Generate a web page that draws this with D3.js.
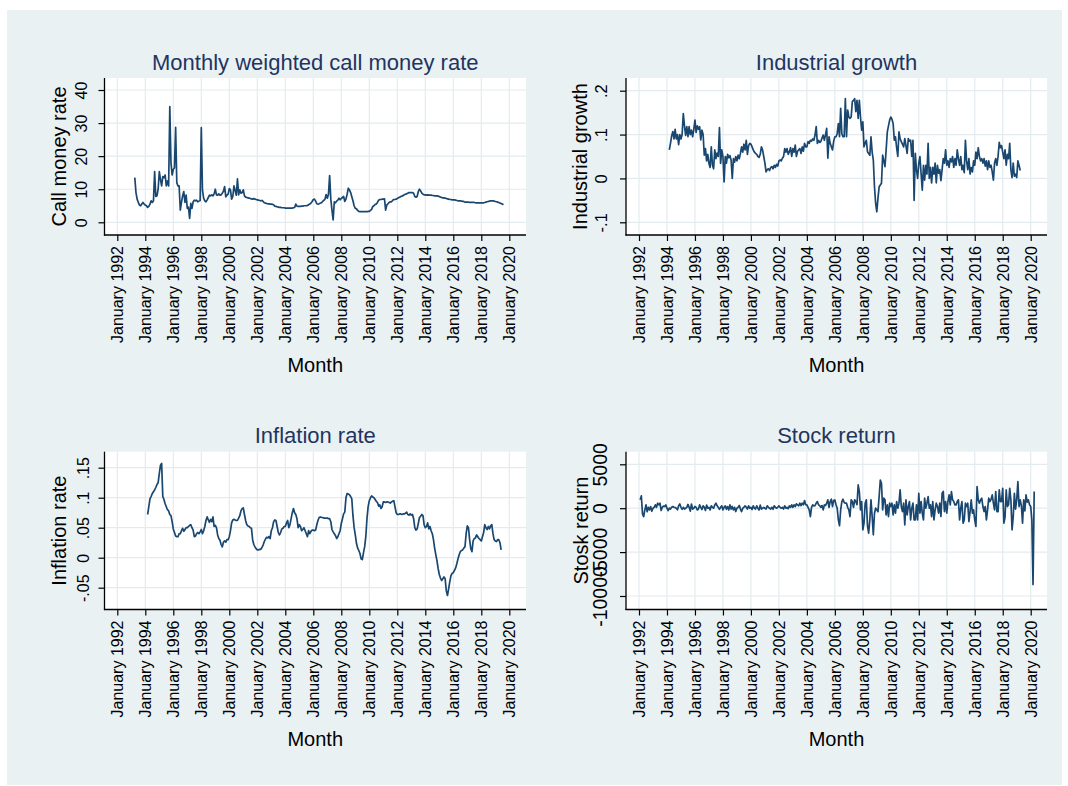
<!DOCTYPE html>
<html>
<head>
<meta charset="utf-8">
<script src="https://cdn.jsdelivr.net/npm/d3@7"></script>
<style>
  body { margin: 0; background: #fff; }
  text { font-family: "Liberation Sans", Arial, sans-serif; }
</style>
</head>
<body>
<div id="chart"></div>
<script>
// x axis: month index, 0 = January 1992
var tickYears = [1992, 1994, 1996, 1998, 2000, 2002, 2004, 2006, 2008, 2010, 2012, 2014, 2016, 2018, 2020]

// Monthly weighted call money rate, from April 1993
var callStart = [1993, 4]
var callRate = [
  13.5, 9.0, 7.0, 6.0, 5.2, 5.0, 5.5, 6.0, 5.5,
  5.2, 5.0, 4.5, 4.8, 5.5, 6.5, 6.0, 6.5, 15.3, 7.8, 8.0, 10.0,
  15.3, 13.0, 11.0, 13.8, 13.5, 14.3, 11.0, 12.5, 11.0, 35.0, 18.0, 14.3,
  16.0, 16.5, 28.7, 12.0, 11.0, 11.0, 3.7, 6.0, 8.0, 9.3, 6.0, 8.2,
  4.2, 4.6, 1.2, 5.7, 4.2, 6.2, 6.7, 6.5, 6.7, 6.2, 6.4, 6.6,
  28.6, 9.7, 7.3, 6.5, 6.2, 6.8, 7.5, 8.2, 8.0, 8.3, 8.0, 8.6,
  10.0, 8.3, 8.2, 8.6, 8.2, 8.3, 8.8, 9.4, 10.8, 7.7, 8.2, 8.5,
  10.2, 9.8, 7.0, 7.8, 11.0, 9.6, 8.2, 13.1, 8.3, 9.8, 8.8, 9.0,
  9.8, 8.0, 7.6, 7.5, 7.4, 7.3, 7.2, 7.1, 7.0, 7.2, 7.0, 6.9,
  6.8, 6.7, 6.6, 6.5, 6.6, 6.3, 5.9, 5.8, 5.7, 5.6, 5.6, 5.5,
  5.5, 5.4, 5.3, 4.9, 4.8, 4.7, 4.6, 4.5, 4.5, 4.4, 4.4, 4.4,
  4.3, 4.3, 4.3, 4.3, 4.3, 4.3, 4.3, 4.4, 4.5, 5.5, 4.9, 4.8,
  4.8, 4.8, 4.9, 4.9, 5.0, 5.0, 5.0, 5.1, 5.3, 5.5, 5.8, 6.3,
  6.9, 7.0, 6.4, 5.6, 5.5, 5.6, 5.8, 5.9, 6.3, 6.6, 7.0, 8.4,
  7.3, 8.5, 14.1, 7.0, 3.7, 0.7, 6.2, 5.9, 6.4, 6.7, 7.3, 6.8,
  7.2, 7.5, 7.8, 6.3, 7.0, 8.5, 10.3, 9.8, 9.0, 7.7, 6.5, 5.0,
  4.2, 4.1, 3.6, 3.3, 3.2, 3.2, 3.2, 3.2, 3.2, 3.2, 3.2, 3.3,
  3.3, 3.6, 3.9, 4.8, 5.0, 5.4, 5.5, 6.0, 6.7, 6.9, 6.9, 7.0,
  7.0, 7.1, 3.7, 5.2, 5.6, 6.0, 6.2, 6.2, 6.6, 6.9, 6.9, 7.0,
  7.2, 7.4, 7.6, 7.8, 7.9, 8.1, 8.3, 8.5, 8.6, 8.8, 9.0, 9.0,
  9.0, 9.0, 8.8, 7.8, 7.6, 7.8, 9.3, 10.0, 9.5, 8.8, 8.5, 8.3,
  8.3, 8.2, 8.3, 8.2, 8.2, 8.2, 8.1, 8.1, 8.0, 8.0, 8.0, 7.9,
  7.8, 7.6, 7.5, 7.4, 7.4, 7.3, 7.2, 7.1, 7.0, 6.9, 6.9, 6.8,
  6.8, 6.8, 6.7, 6.6, 6.5, 6.5, 6.5, 6.4, 6.3, 6.3, 6.1, 6.1,
  6.1, 6.1, 6.0, 6.0, 6.0, 6.0, 6.0, 5.9, 5.9, 5.9, 5.9, 5.9,
  5.9, 5.9, 5.9, 6.0, 6.1, 6.2, 6.3, 6.4, 6.5, 6.5, 6.5, 6.4,
  6.3, 6.2, 6.1, 6.0, 5.8, 5.7, 5.5, 5.3
]
var callTicks = [0, 10, 20, 30, 40]

// Industrial growth, from March 1994
var indStart = [1994, 3]
var indGrowth = [
  .065, .08, .097, .107, .09, .112, .09, .1, .077, .1,
  .09, .1, .148, .12, .098, .118, .095, .118, .1, .11, .095, .112,
  .133, .105, .12, .112, .118, .088, .11, .1, .053, .068, .04, .055,
  .034, .025, .072, .03, .022, .065, .045, .058, .05, .116, .034, .065,
  .05, -.008, .05, .035, .055, .047, .052, .042, 0, .045, .037, .05,
  .04, .053, .045, .057, .072, .06, .078, .065, .087, .055, .075, .08,
  .078, .072, .065, .06, .057, .055, .05, .048, .055, .072, .065, .05,
  .035, .015, .02, .022, .018, .025, .027, .022, .03, .025, .032, .028,
  .04, .042, .04, .046, .05, .068, .06, .068, .055, .061, .07, .05,
  .068, .06, .076, .05, .062, .065, .068, .057, .072, .062, .08, .072,
  .072, .084, .08, .087, .085, .09, .087, .099, .118, .08, .087, .082,
  .084, .092, .099, .087, .1, .114, .046, .095, .08, .072, .065, .085,
  .095, .095, .102, .125, .095, .16, .102, .095, .095, .182, .095, .156,
  .14, .137, .14, .175, .178, .182, .152, .178, .137, .178, .14, .11,
  .129, .072, .08, .087, .061, .057, .053, .095, .06, .042, -.019, -.057,
  -.076, -.045, -.019, -.015, -.011, .053, .04, .027, .065, .106, .12, .133,
  .14, .135, .125, .087, .095, .07, .05, .106, .09, .084, .078, .072,
  .091, .075, .057, .091, .085, .087, .05, .087, -.05, .057, .02, 0,
  .035, .05, .01, -.027, .03, -.004, .03, .01, .08, 0, .025, -.01,
  .025, .01, .035, -.01, .03, .012, .02, -.005, .02, .045, .035, .065,
  .03, .04, .025, .045, .038, .05, .025, .045, .03, .065, .045, .03,
  .05, .02, .03, .013, .087, .04, .02, .045, .01, .025, .015, .04,
  .03, .06, .045, .07, .05, .04, .045, .035, .045, .028, .04, .02,
  .04, .025, .03, .015, -.004, .035, .045, .03, .05, .082, .07, .075,
  .06, .045, .065, .03, .055, .045, .08, .02, .002, .035, .005, .01,
  .002, .04, .03, .018
]
var indTicks = [-.1, 0, .1, .2]

// Inflation rate, from March 1994
var inflStart = [1994, 3]
var inflation = [
  .072, .085, .098, .102, .107, .11, .113, .117, .122, .125,
  .14, .154, .157, .102, .097, .09, .085, .08, .078, .072, .07, .06,
  .048, .042, .036, .035, .035, .04, .04, .045, .049, .044, .047, .05,
  .05, .052, .054, .055, .05, .046, .035, .036, .04, .042, .04, .043,
  .047, .04, .045, .052, .062, .068, .063, .059, .064, .06, .068, .052,
  .054, .05, .038, .032, .029, .022, .018, .026, .028, .026, .03, .03,
  .035, .045, .058, .063, .064, .063, .062, .062, .066, .07, .078, .082,
  .083, .072, .062, .055, .053, .052, .05, .049, .03, .022, .018, .015,
  .013, .013, .014, .014, .017, .021, .027, .031, .034, .033, .035, .032,
  .045, .05, .06, .063, .062, .052, .042, .038, .042, .048, .049, .052,
  .052, .058, .062, .05, .055, .065, .075, .082, .075, .072, .065, .05,
  .055, .052, .045, .047, .05, .045, .04, .035, .045, .04, .044, .046,
  .046, .045, .046, .055, .062, .067, .068, .067, .067, .066, .066, .066,
  .066, .065, .065, .06, .047, .043, .04, .037, .032, .035, .04, .045,
  .057, .065, .073, .076, .1, .107, .106, .105, .102, .098, .07, .05,
  .038, .024, .016, .012, .007, -.002, -.003, .008, .018, .035, .065, .085,
  .095, .1, .103, .101, .1, .097, .094, .092, .086, .088, .082, .085,
  .093, .093, .092, .093, .093, .092, .091, .093, .094, .095, .085, .075,
  .072, .072, .073, .073, .072, .073, .073, .074, .076, .072, .071, .073,
  .071, .072, .065, .05, .046, .048, .057, .067, .069, .072, .07, .055,
  .05, .052, .058, .048, .052, .045, .04, .03, .016, .005, -.005, -.018,
  -.028, -.034, -.038, -.035, -.032, -.035, -.055, -.063, -.052, -.04, -.03, -.026,
  -.025, -.021, -.017, -.01, -.002, .005, .01, .012, .013, .016, .018, .04,
  .053, .05, .03, .015, .01, .028, .032, .033, .038, .035, .032, .03,
  .028, .035, .042, .055, .05, .047, .052, .048, .053, .055, .04, .03,
  .028, .027, .03, .03, .025, .013
]
var inflTicks = [-.05, 0, .05, .1, .15]

// Stock return, from February 1992
var stockStart = [1992, 2]
var stockReturn = [
  950, 1400, -640, -950, -200, 380, -400, 100, -200, 180, -350,
  0, 100, 380, 100, 570, 380, 570, -265, 100, 250, 190, 380,
  0, -265, 0, -100, 100, 190, 100, 80, 0, -190, 270, 480,
  100, -120, 100, -100, 0, 100, 430, 100, -330, 480, -100, 0,
  200, 100, -200, -100, 380, 100, -150, 270, 100, -250, 350, 0,
  100, -200, 270, 100, 0, 380, 570, 270, 100, -120, 100, 270,
  -200, 100, 270, -120, 190, -200, 380, -100, 200, -190, 100, -380,
  0, 100, 300, -100, -380, 0, 100, 270, 100, -100, 270, 0,
  100, -150, 270, 0, -100, 270, 0, -200, 350, -100, 0, 100,
  0, -100, 270, 100, 0, -100, 100, -120, 270, 100, 0, 100,
  270, 100, 0, 100, -100, 270, 0, 100, -50, 270, 100, 380,
  100, 380, 190, 490, 380, 270, 570, 300, 570, 380, 870, 400,
  380, 100, -190, -950, 100, 380, 270, 300, 570, 760, 400, 270,
  100, 300, -190, 380, 300, 570, 950, 100, 760, 1020, 190, 870,
  950, 400, 0, -1330, -2000, -190, 760, 1020, 650, 570, 570, 100,
  -190, -950, 950, 760, 100, 950, 760, 400, 2650, 1900, -190, 760,
  -2460, -1700, 570, 950, -2000, -2840, -1330, 950, -950, -3030, -570, 0,
  -190, -400, 1330, 3200, 2840, -190, 1140, 950, -760, 380, -950, 570,
  190, 570, -760, 380, -570, 760, 0, 570, 2080, 190, -380, 570,
  -1900, 950, -760, 190, 760, -1330, 0, 570, -1330, -1330, 380, -1330,
  1700, -570, 760, -570, -1330, 1140, 0, 570, 1330, 0, 380, -950,
  760, -1330, -190, 570, 190, -570, 570, -950, 1700, 1900, -380, 760,
  -570, 760, 1520, 380, 1900, 950, 760, 380, 380, 760, 950, -1330,
  0, 760, -1700, -1330, 570, 190, 570, -1520, -380, 950, -570, -190,
  -1330, -2080, 2460, 950, 570, 950, 1140, 190, -380, 190, -1330, -190,
  1140, 760, 1000, 1520, 570, -190, 1900, -380, -400, 2080, 760, 760,
  2270, -1700, -1000, 2080, 190, 380, 2270, 950, -2460, -1000, 1700, -100,
  950, 3030, 190, 950, 300, -1700, 950, -300, 1520, 700, 950, 380,
  200, -1330, -8700, 1900
]
var stockTicks = [-10000, -5000, 0, 5000]

var W = 1068, H = 786
var lineColor = '#1a476f'
var titleColor = '#1f3560'
var gridColor = '#e3ebee'

var svg = d3.select('#chart').append('svg')
  .attr('width', W)
  .attr('height', H)

// graph region
svg.append('rect')
  .attr('x', 7).attr('y', 10)
  .attr('width', 1055).attr('height', 775)
  .attr('fill', '#eaf1f3')

function monthIndex(s) { return (s[0] - 1992) * 12 + (s[1] - 1) }
function stataNum(d) { return String(d).replace('0.', '.') }

// layout of the four sub-graphs
var panels = [
  { title: 'Monthly weighted call money rate', ytitle: 'Call money rate',
    values: callRate, start: callStart, ticks: callTicks,
    left: 104.5, right: 526, top: 78, bottom: 235,
    xr: [117.3, 509.3], yd: [0, 40], yr: [222.3, 90],
    labX: 81, ytitleX: 58.5, titleY: 70, monthY: 372, labSize: 16 },
  { title: 'Industrial growth', ytitle: 'Industrial growth',
    values: indGrowth, start: indStart, ticks: indTicks,
    left: 626, right: 1047, top: 78, bottom: 235,
    xr: [639, 1030.7], yd: [-0.1, 0.2], yr: [222.3, 90.7],
    labX: 601, ytitleX: 580, titleY: 70, monthY: 372, labSize: 16.5 },
  { title: 'Inflation rate', ytitle: 'Inflation rate',
    values: inflation, start: inflStart, ticks: inflTicks,
    left: 104.5, right: 526, top: 451.7, bottom: 609.5,
    xr: [117.3, 509.3], yd: [-0.05, 0.15], yr: [587.7, 467.7],
    labX: 83, ytitleX: 59, titleY: 442.5, monthY: 746, labSize: 16 },
  { title: 'Stock return', ytitle: 'Stosk return',
    values: stockReturn, start: stockStart, ticks: stockTicks,
    left: 626, right: 1047, top: 451.7, bottom: 609.5,
    xr: [639, 1030.7], yd: [-10000, 5000], yr: [596, 464.3],
    labX: 600, ytitleX: 581, titleY: 442.5, monthY: 746, labSize: 19.5 }
]

var xTickMonths = tickYears.map(function (yr) { return (yr - 1992) * 12 })

panels.forEach(function (p) {
  var x = d3.scaleLinear().domain([0, 336]).range(p.xr)
  var y = d3.scaleLinear().domain(p.yd).range(p.yr)
  var g = svg.append('g')

  // plot region
  g.append('rect')
    .attr('x', p.left).attr('y', p.top)
    .attr('width', p.right - p.left).attr('height', p.bottom - p.top)
    .attr('fill', '#fff')

  // grid lines
  g.selectAll('line.hgrid').data(p.ticks).enter().append('line')
    .attr('class', 'hgrid')
    .attr('x1', p.left).attr('x2', p.right)
    .attr('y1', function (d) { return y(d) }).attr('y2', function (d) { return y(d) })
    .attr('stroke', gridColor).attr('stroke-width', 1.2)
  g.selectAll('line.vgrid').data(xTickMonths).enter().append('line')
    .attr('class', 'vgrid')
    .attr('y1', p.top).attr('y2', p.bottom)
    .attr('x1', function (d) { return x(d) }).attr('x2', function (d) { return x(d) })
    .attr('stroke', gridColor).attr('stroke-width', 1.2)

  // the series
  var s0 = monthIndex(p.start)
  var pts = p.values.map(function (v, i) { return [s0 + i, v] })
  g.append('path')
    .datum(pts)
    .attr('fill', 'none')
    .attr('stroke', lineColor)
    .attr('stroke-width', 1.7)
    .attr('stroke-linejoin', 'round')
    .attr('d', d3.line().x(function (d) { return x(d[0]) }).y(function (d) { return y(d[1]) }))

  // x axis
  var xa = g.append('g')
    .attr('transform', 'translate(0,' + p.bottom + ')')
    .style('color', '#000')
    .call(d3.axisBottom(x).tickValues(xTickMonths).tickSize(6).tickSizeOuter(0)
      .tickFormat(function (d) { return 'January ' + (1992 + d / 12) }))
  xa.select('.domain').remove()
  xa.selectAll('line').attr('stroke-width', 1.2)
  xa.selectAll('text')
    .attr('font-size', 16)
    .attr('font-family', '"Liberation Sans", Arial, sans-serif')
    .attr('text-anchor', 'end')
    .attr('transform', 'rotate(-90)')
    .attr('x', -11).attr('y', 0).attr('dy', '0.35em')
  g.append('line')
    .attr('x1', p.left - 0.6).attr('x2', p.right)
    .attr('y1', p.bottom).attr('y2', p.bottom)
    .attr('stroke', '#000').attr('stroke-width', 1.3)

  // y axis
  var ya = g.append('g')
    .attr('transform', 'translate(' + p.left + ',0)')
    .style('color', '#000')
    .call(d3.axisLeft(y).tickValues(p.ticks).tickSize(6).tickSizeOuter(0).tickFormat(stataNum))
  ya.select('.domain').remove()
  ya.selectAll('line').attr('stroke-width', 1.2)
  ya.selectAll('text')
    .attr('font-size', p.labSize)
    .attr('font-family', '"Liberation Sans", Arial, sans-serif')
    .attr('text-anchor', 'middle')
    .attr('transform', 'translate(' + (p.labX - p.left) + ',0) rotate(-90)')
    .attr('x', 0).attr('y', 0).attr('dy', '0.35em')
  g.append('line')
    .attr('x1', p.left).attr('x2', p.left)
    .attr('y1', p.top).attr('y2', p.bottom + 0.6)
    .attr('stroke', '#000').attr('stroke-width', 1.3)

  // titles
  var cx = (p.left + p.right) / 2
  g.append('text')
    .attr('x', cx).attr('y', p.titleY)
    .attr('text-anchor', 'middle')
    .attr('font-size', 22)
    .attr('fill', titleColor)
    .text(p.title)
  g.append('text')
    .attr('transform', 'translate(' + p.ytitleX + ',' + ((p.top + p.bottom) / 2) + ') rotate(-90)')
    .attr('text-anchor', 'middle')
    .attr('dy', '0.35em')
    .attr('font-size', 20)
    .attr('fill', '#000')
    .text(p.ytitle)
  g.append('text')
    .attr('x', cx).attr('y', p.monthY)
    .attr('text-anchor', 'middle')
    .attr('font-size', 20)
    .attr('fill', '#000')
    .text('Month')
})
</script>
</body>
</html>
